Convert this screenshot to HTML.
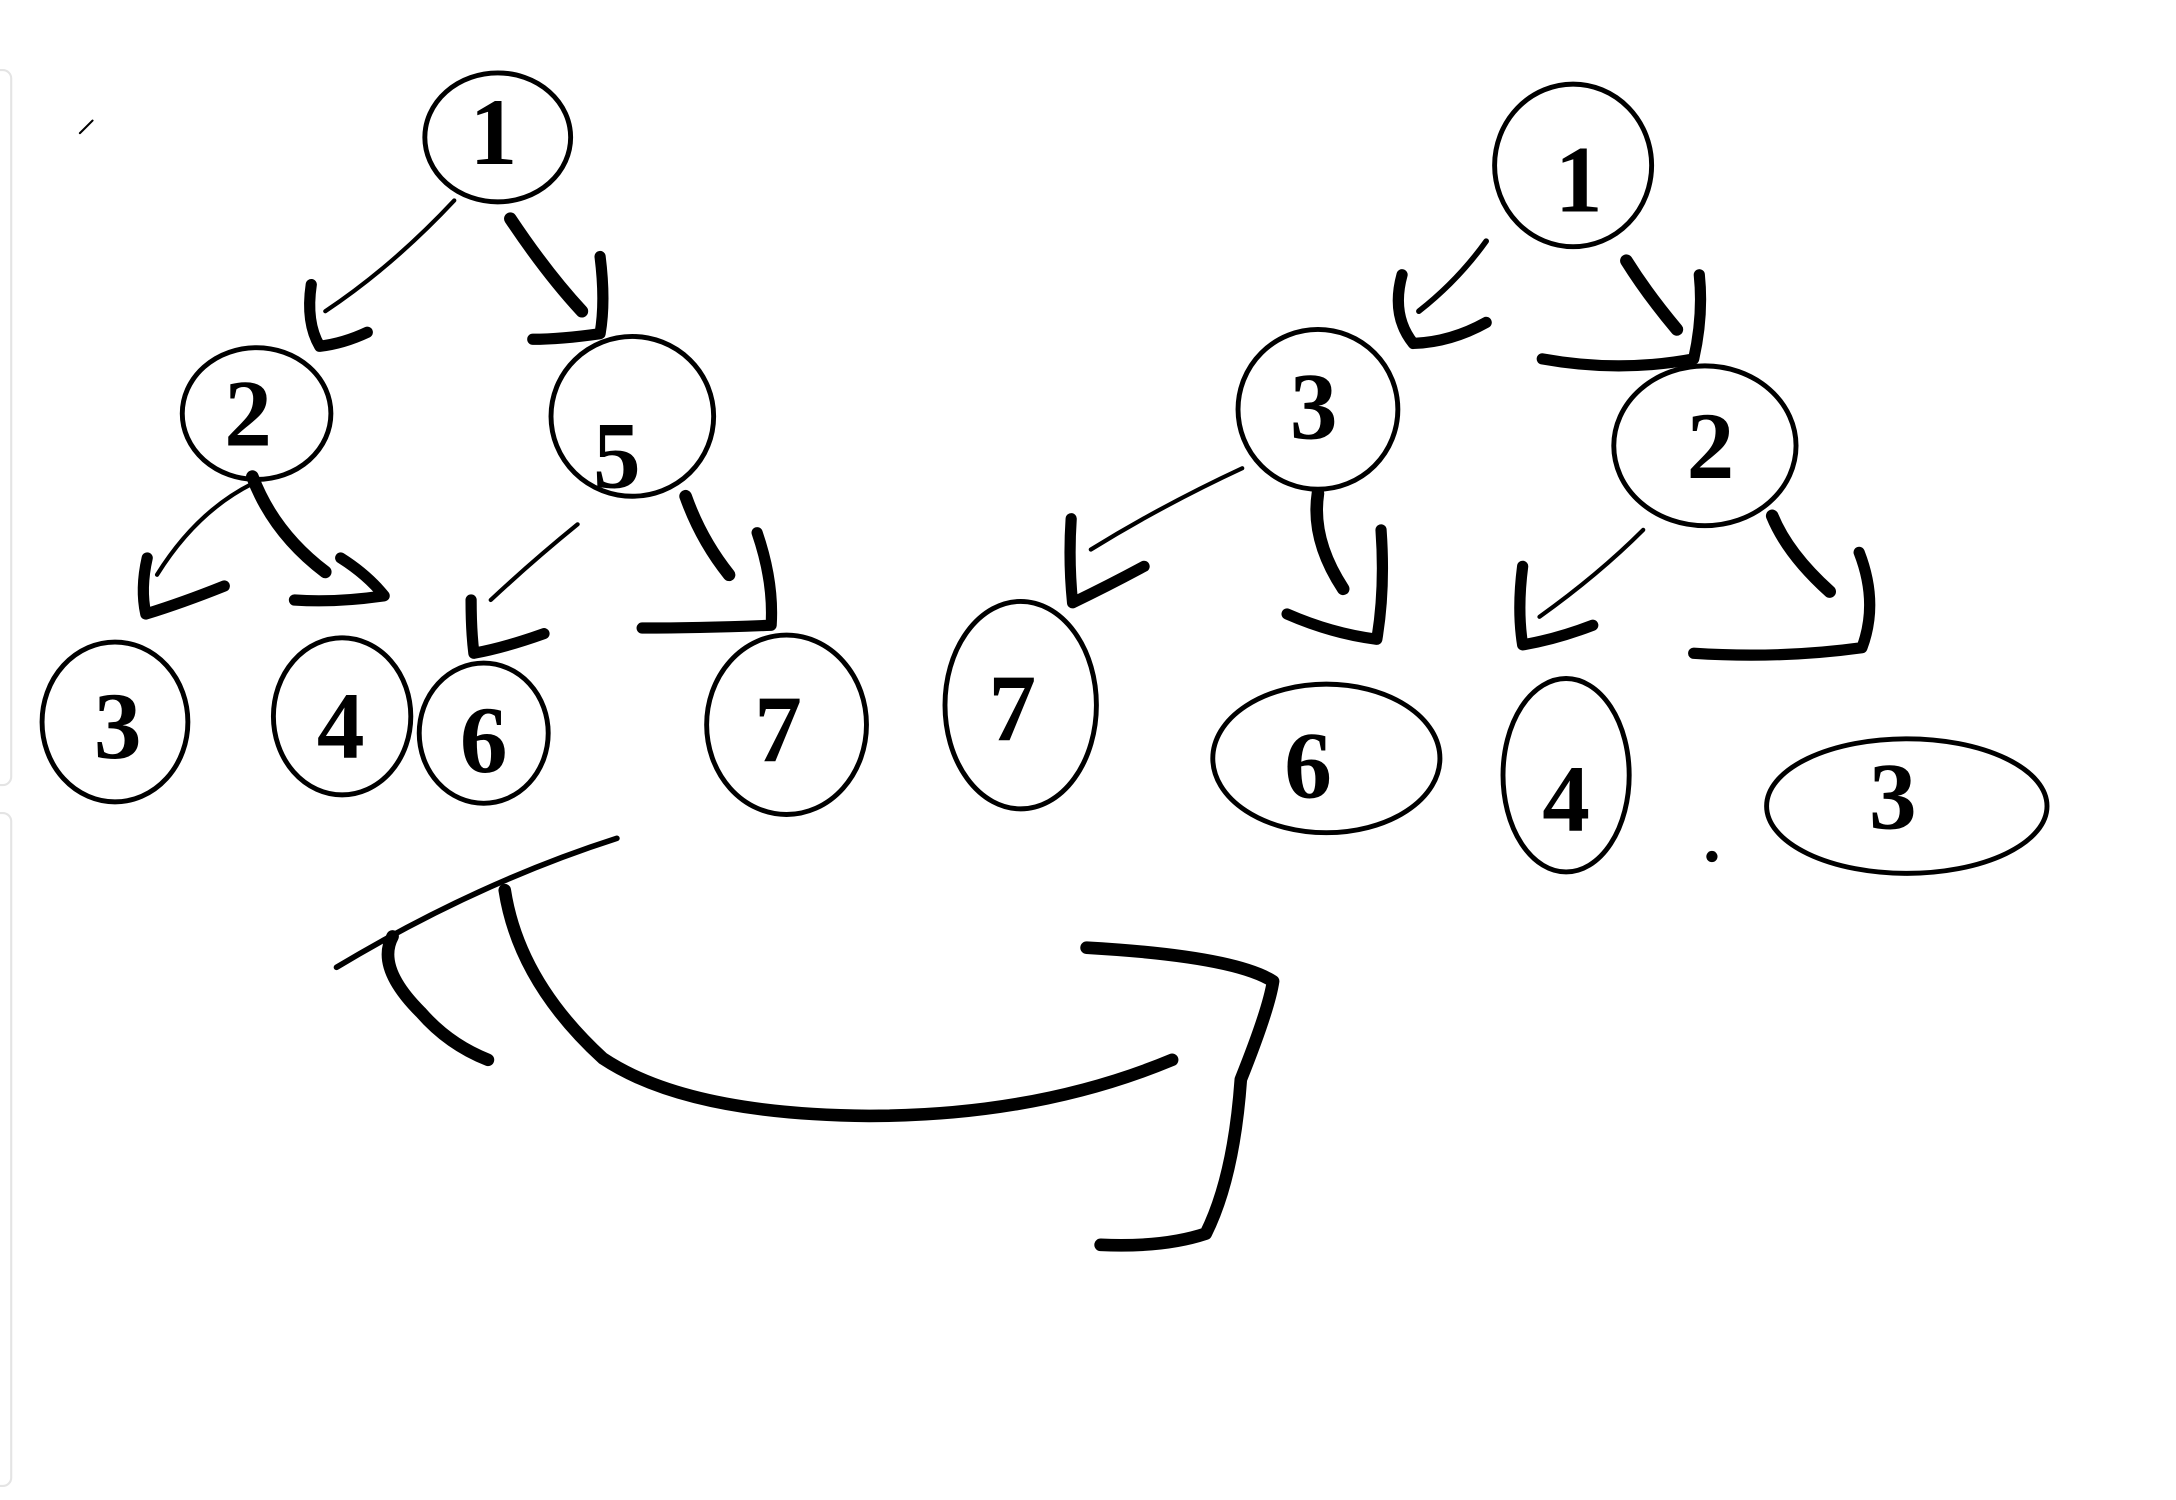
<!DOCTYPE html>
<html><head><meta charset="utf-8"><style>
html,body{margin:0;padding:0;background:#fff;}
svg{display:block;}
text{font-family:"Liberation Serif",serif;font-weight:bold;fill:#000;text-anchor:middle;dominant-baseline:central;}
</style></head><body>
<svg width="2176" height="1500" viewBox="0 0 1552 1070" preserveAspectRatio="none" xmlns="http://www.w3.org/2000/svg">
<rect x="0" y="0" width="1552" height="1070" fill="#fff"/>
<rect x="-6" y="50" width="14" height="510" rx="6" fill="none" stroke="#e4e4e4" stroke-width="1.5"/>
<rect x="-6" y="580" width="14" height="480" rx="6" fill="none" stroke="#e4e4e4" stroke-width="1.5"/>
<g fill="none" stroke="#000" stroke-width="3.5">
<ellipse cx="355" cy="98" rx="52" ry="46"/>
<ellipse cx="183" cy="295" rx="53" ry="47"/>
<ellipse cx="451" cy="297" rx="58" ry="57"/>
<ellipse cx="82" cy="515" rx="52" ry="57"/>
<ellipse cx="244" cy="511" rx="49" ry="56"/>
<ellipse cx="345" cy="523" rx="46" ry="50"/>
<ellipse cx="561" cy="517" rx="57" ry="64"/>
<ellipse cx="1122" cy="118" rx="56" ry="58"/>
<ellipse cx="940" cy="292" rx="57" ry="57"/>
<ellipse cx="1216" cy="318" rx="65" ry="57"/>
<ellipse cx="728" cy="503" rx="54" ry="74"/>
<ellipse cx="946" cy="541" rx="81" ry="53"/>
<ellipse cx="1117" cy="553" rx="45" ry="69"/>
<ellipse cx="1360" cy="575" rx="100" ry="48"/>
</g>
<circle cx="1221" cy="611" r="4" fill="#000"/>
<g font-size="68">
<text x="352" y="94">1</text>
<text x="177" y="295">2</text>
<text x="440" y="325">5</text>
<text x="84" y="518">3</text>
<text x="243" y="518">4</text>
<text x="345" y="528">6</text>
<text x="555" y="520">7</text>
<text x="1126" y="128">1</text>
<text x="937" y="290">3</text>
<text x="1220" y="318">2</text>
<text x="722" y="505">7</text>
<text x="933" y="546">6</text>
<text x="1117" y="570">4</text>
<text x="1350" y="568">3</text>
</g>
<g fill="none" stroke="#000" stroke-linecap="round" stroke-linejoin="round">
<path d="M324 143 Q280 190 232 222" stroke-width="3"/>
<path d="M222 203 Q218 230 228 247 Q245 245 262 237" stroke-width="8"/>
<path d="M364 156 Q390 195 415 222" stroke-width="9"/>
<path d="M428 183 Q432 215 428 238 Q400 242 380 242" stroke-width="8"/>
<path d="M180 345 Q140 365 112 410" stroke-width="3"/>
<path d="M105 398 Q100 420 104 438 Q130 430 160 418" stroke-width="8"/>
<path d="M180 340 Q195 380 232 408" stroke-width="9"/>
<path d="M243 398 Q262 410 274 425 Q240 430 210 428" stroke-width="8"/>
<path d="M412 374 Q380 400 350 428" stroke-width="3"/>
<path d="M336 428 Q336 450 338 466 Q360 462 388 452" stroke-width="8"/>
<path d="M489 354 Q500 385 520 410" stroke-width="9"/>
<path d="M540 380 Q552 415 550 446 Q500 448 458 448" stroke-width="8"/>
<path d="M1060 172 Q1040 200 1012 222" stroke-width="4"/>
<path d="M1000 196 Q992 225 1008 245 Q1035 244 1060 230" stroke-width="8"/>
<path d="M1160 186 Q1175 210 1196 235" stroke-width="9"/>
<path d="M1212 196 Q1215 225 1208 256 Q1155 266 1100 256" stroke-width="8"/>
<path d="M886 334 Q830 360 778 392" stroke-width="3"/>
<path d="M764 370 Q762 400 765 430 Q790 418 816 404" stroke-width="8"/>
<path d="M940 352 Q935 385 958 420" stroke-width="9"/>
<path d="M985 378 Q988 420 982 456 Q950 452 918 438" stroke-width="8"/>
<path d="M1172 378 Q1140 410 1098 440" stroke-width="3"/>
<path d="M1086 404 Q1082 435 1086 460 Q1110 456 1136 446" stroke-width="8"/>
<path d="M1264 368 Q1275 395 1305 422" stroke-width="9"/>
<path d="M1326 394 Q1340 430 1328 462 Q1270 470 1208 466" stroke-width="8"/>
<path d="M440 598 Q340 630 240 690" stroke-width="4"/>
<path d="M280 668 Q268 690 300 722 Q320 745 348 756" stroke-width="9"/>
<path d="M360 635 Q370 700 430 755 Q490 795 620 796 Q740 796 836 756" stroke-width="9"/>
<path d="M775 676 Q880 682 908 700 Q905 720 885 770 Q880 840 860 880 Q830 890 785 888" stroke-width="9"/>
<path d="M57 95 L66 86" stroke-width="1.5"/>
</g>
</svg>
</body></html>
